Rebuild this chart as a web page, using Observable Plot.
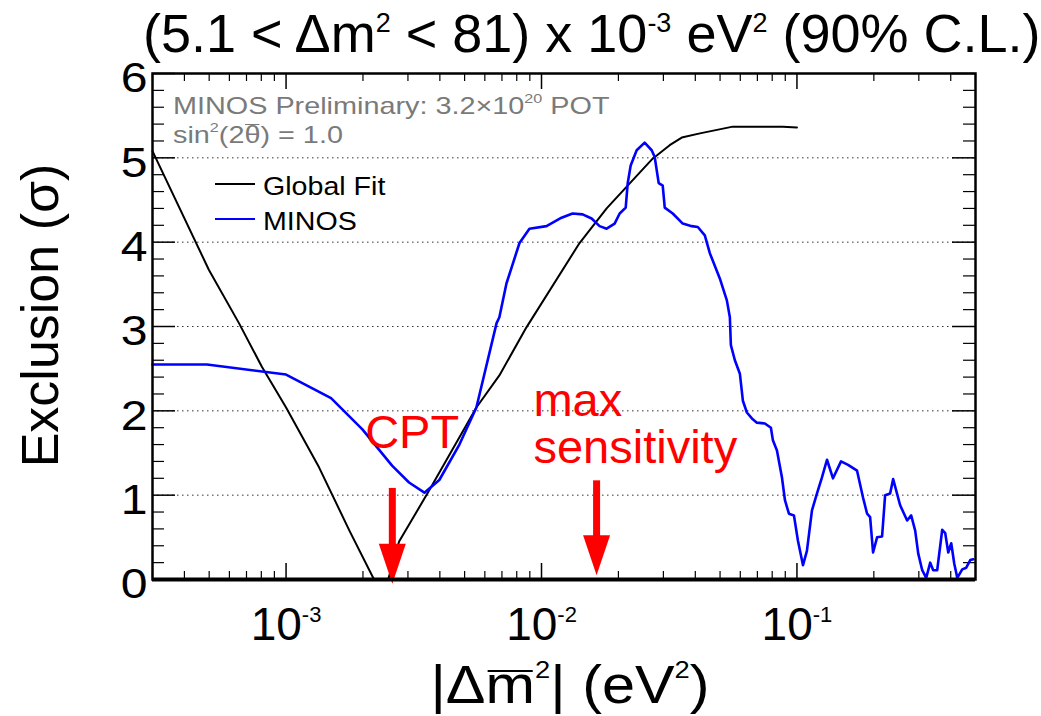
<!DOCTYPE html>
<html><head><meta charset="utf-8">
<script src="https://cdn.jsdelivr.net/npm/d3@7"></script>
<script src="https://cdn.jsdelivr.net/npm/@observablehq/plot@0.6"></script>
<style>
body{margin:0;background:#fff;font-family:'Liberation Sans',Arial,sans-serif;}
#wrap{position:relative;width:1041px;height:716px;overflow:hidden;background:#fff}
#wrap svg{position:absolute;left:0;top:0}
.ov{position:absolute;white-space:nowrap;line-height:1;color:#000}
.ov sup{font-size:0.5em;vertical-align:baseline;position:relative;top:-0.74em;line-height:0}
.xl sup{font-size:0.46em;top:-1.0em}
.gray{color:#7a7a7a;font-size:24px;transform:scaleX(1.2);transform-origin:left center}
.gray sup{font-size:0.56em;top:-0.82em}
.ol{position:relative}
.ol::before{content:"";position:absolute;left:0.04em;right:0.04em;top:0.14em;border-top:0.055em solid currentColor}
.xl .ol::before{top:0.29em}
.leg{font-size:26px;transform:scaleX(1.1);transform-origin:left center}
</style></head><body>
<div id="wrap"></div>
<script>
// ---- data ----
const globalFitX = [3e-4, 4.99e-4, 6.54e-4, 8.05e-4, 1e-3, 1.346e-3, 1.77e-3, 2.21e-3, 2.51e-3, 2.77e-3, 3.64e-3, 5.56e-3, 6.84e-3, 8.73e-3, 0.01409, 0.01799, 0.02174, 0.02723, 0.03175, 0.0354, 0.0417, 0.0561, 0.0881, 0.1];
const globalFitY = [5.08, 3.67, 3.04, 2.52, 2.04, 1.33, 0.58, 0.0, 0.0, 0.45, 1.06, 2.04, 2.42, 2.99, 3.99, 4.40, 4.67, 4.99, 5.15, 5.24, 5.29, 5.37, 5.37, 5.36];

const minosX = [3e-4, 4.9e-4, 1e-3, 1.5e-3, 1.99e-3, 2.6e-3, 3.03e-3, 3.48e-3, 3.98e-3, 4.77e-3, 5.56e-3, 6.67e-3, 6.84e-3, 7.29e-3, 8.2e-3, 8.97e-3, 0.01046, 0.01198, 0.01323, 0.01448, 0.01571, 0.01688, 0.01799, 0.01933, 0.02023, 0.02136, 0.02175, 0.02234, 0.02358, 0.02534, 0.027, 0.02774, 0.02876, 0.02982, 0.03037, 0.03264, 0.03572, 0.03874, 0.04091, 0.04358, 0.04559, 0.04989, 0.05316, 0.05462, 0.05512, 0.05715, 0.05978, 0.06142, 0.06368, 0.06662, 0.06969, 0.0749, 0.07907, 0.08052, 0.0835, 0.08736, 0.08975, 0.09303, 0.09732, 0.1009, 0.1056, 0.1094, 0.1145, 0.1198, 0.1253, 0.1311, 0.1384, 0.1488, 0.1585, 0.1719, 0.1815, 0.1882, 0.1934, 0.1986, 0.2059, 0.2154, 0.2214, 0.2316, 0.238, 0.2535, 0.27, 0.28, 0.2903, 0.2983, 0.3093, 0.3206, 0.3324, 0.3415, 0.354, 0.3704, 0.3806, 0.3911, 0.4018, 0.4128, 0.4242, 0.4437, 0.4601, 0.477, 0.49];
const minosY = [2.55, 2.55, 2.43, 2.15, 1.78, 1.35, 1.15, 1.03, 1.18, 1.6, 2.04, 3.04, 3.11, 3.51, 3.99, 4.16, 4.19, 4.29, 4.34, 4.33, 4.28, 4.19, 4.16, 4.22, 4.34, 4.41, 4.70, 4.91, 5.09, 5.18, 5.09, 5.01, 4.70, 4.67, 4.41, 4.34, 4.22, 4.19, 4.18, 4.08, 3.87, 3.57, 3.31, 3.11, 2.78, 2.60, 2.44, 2.12, 1.98, 1.91, 1.86, 1.85, 1.80, 1.65, 1.53, 1.21, 0.94, 0.78, 0.76, 0.46, 0.17, 0.34, 0.82, 1.02, 1.21, 1.42, 1.20, 1.40, 1.36, 1.29, 0.97, 0.78, 0.74, 0.32, 0.50, 0.51, 1.00, 1.02, 1.19, 0.88, 0.70, 0.76, 0.58, 0.31, 0.11, 0.02, 0.20, 0.11, 0.11, 0.59, 0.55, 0.32, 0.43, 0.19, 0.02, 0.12, 0.14, 0.23, 0.24];

const arrowX = [2.606e-3, 0.01643];
const arrowTop = [1.08, 1.17];
const arrowBase = [0.40, 0.45];
const arrowTip = [-0.05, 0.05];

const annotText = ["CPT", "max\nsensitivity"];
const annotX = [2.04e-3, 9.3e-3];
const annotY = [1.565, 1.387];

const xDomain = [3e-4, 0.5];
const yDomain = [0, 6];
const xLabelTicks = [1e-3, 1e-2, 1e-1];
const xMajorTicks = [1e-3, 1e-2, 1e-1];
const xMinorTicks = [3e-4, 4e-4, 5e-4, 6e-4, 7e-4, 8e-4, 9e-4, 2e-3, 3e-3, 4e-3, 5e-3, 6e-3, 7e-3, 8e-3, 9e-3, 2e-2, 3e-2, 4e-2, 5e-2, 6e-2, 7e-2, 8e-2, 9e-2, 0.2, 0.3, 0.4];
const yTickLabels = [0, 1, 2, 3, 4, 5, 6];
const yMinorTicks = d3.range(1, 30).map(i => i / 5).filter(v => Math.abs(v - Math.round(v)) > 1e-9);
const yGrid = [1, 2, 3, 4, 5];

// ---- layout ----
const W = 1041, H = 716, ML = 152, MR = 66, MT = 73, MB = 137;
const FW = W - ML - MR, FH = H - MT - MB;

const arrowHead = {
  draw(ctx) {
    ctx.moveTo(-13.5, -40);
    ctx.lineTo(13.5, -40);
    ctx.lineTo(0, 0);
    ctx.closePath();
  }
};

const plot = Plot.plot({
  width: W, height: H,
  marginLeft: ML, marginRight: MR, marginTop: MT, marginBottom: MB,
  x: {type: "log", domain: xDomain},
  y: {domain: yDomain},
  style: {fontFamily: "'Liberation Sans', Arial, sans-serif", background: "white", overflow: "visible"},
  marks: [
    Plot.ruleY(yGrid, {stroke: "#333", strokeWidth: 1, strokeDasharray: "1.5,3.5"}),
    Plot.tickX(xMajorTicks, {x: d => d, insetTop: FH - 16, stroke: "black", strokeWidth: 1.5}),
    Plot.tickX(xMajorTicks, {x: d => d, insetBottom: FH - 16, stroke: "black", strokeWidth: 1.5}),
    Plot.tickX(xMinorTicks, {x: d => d, insetTop: FH - 8, stroke: "black", strokeWidth: 1.2}),
    Plot.tickX(xMinorTicks, {x: d => d, insetBottom: FH - 8, stroke: "black", strokeWidth: 1.2}),
    Plot.tickY(yTickLabels, {y: d => d, insetRight: FW - 23, stroke: "black", strokeWidth: 1.5}),
    Plot.tickY(yTickLabels, {y: d => d, insetLeft: FW - 23, stroke: "black", strokeWidth: 1.5}),
    Plot.tickY(yMinorTicks, {y: d => d, insetRight: FW - 12, stroke: "black", strokeWidth: 1.2}),
    Plot.tickY(yMinorTicks, {y: d => d, insetLeft: FW - 12, stroke: "black", strokeWidth: 1.2}),
    Plot.line(globalFitX, {x: globalFitX, y: globalFitY, stroke: "black", strokeWidth: 2}),
    Plot.line(minosX, {x: minosX, y: minosY, stroke: "#0000ff", strokeWidth: 2.6}),
    Plot.ruleX(arrowX, {x: arrowX, y1: arrowTop, y2: arrowBase, stroke: "#ff0000", strokeWidth: 7}),
    Plot.dot(arrowX, {x: arrowX, y: arrowTip, symbol: arrowHead, fill: "#ff0000", stroke: "none"}),
    Plot.text(annotText, {x: annotX, y: annotY, text: annotText, fill: "#ff0000", fontSize: 47, textAnchor: "start", lineAnchor: "bottom", lineHeight: 1.0}),
    Plot.text(["Exclusion (σ)"], {frameAnchor: "left", dx: -111, dy: -11, rotate: -90, fontSize: 52, textAnchor: "middle", fill: "black"}),
    Plot.frame({stroke: "black", strokeWidth: 2.5}),
    Plot.ruleY([0], {stroke: "black", strokeWidth: 4}),
    Plot.axisX({ticks: xLabelTicks, tickSize: 0, tickPadding: 28, fontSize: 46, label: null, tickFormat: d => "10^" + Math.round(Math.log10(d))}),
    Plot.axisY({ticks: yTickLabels, tickSize: 0, tickPadding: 5, fontSize: 43, label: null, dy: 5, tickFormat: d => String(d)})
  ]
});

// superscripts on x tick labels
d3.select(plot).selectAll('g[aria-label="x-axis tick label"] text').each(function () {
  const t = d3.select(this);
  const s = t.text();
  if (s.includes("^")) {
    const [base, exp] = s.split("^");
    t.text(base);
    t.append("tspan").attr("dy", -18).attr("font-size", 22).text(exp.replace("\u2212", "-"));
  }
});
// slightly wider y tick digits, as in the stretched original
d3.select(plot).selectAll('g[aria-label="y-axis tick label"] text').each(function () {
  const tr = this.getAttribute("transform") || "";
  this.setAttribute("transform", tr + " scale(1.12,1)");
});

const wrap = document.getElementById("wrap");
wrap.appendChild(plot);

function ov(html, css, cls) {
  const d = document.createElement("div");
  d.className = "ov" + (cls ? " " + cls : "");
  d.style.cssText = css;
  d.innerHTML = html;
  wrap.appendChild(d);
  return d;
}
// title
ov('(5.1 &lt; Δm<sup>2</sup> &lt; 81) x 10<sup>-3</sup> eV<sup>2</sup> (90% C.L.)', 'left:143px;top:6px;font-size:54px;');
// x label
ov('|Δ<span class="ol">m</span><sup>2</sup>| (eV<sup>2</sup>)', 'left:570px;top:657px;font-size:54px;transform:translateX(-50%) scaleX(1.1);', 'xl');
// in-frame labels
ov('MINOS Preliminary: 3.2×10<sup>20</sup> POT', 'left:173px;top:94px;', 'gray');
ov('sin<sup>2</sup>(2<span class="ol">θ</span>) = 1.0', 'left:173px;top:123px;', 'gray');
// legend
ov('', 'left:215px;top:183px;width:40px;border-top:2px solid #000;');
ov('', 'left:215px;top:218px;width:40px;border-top:2.6px solid #0000ff;');
ov('Global Fit', 'left:263px;top:173px;', 'leg');
ov('MINOS', 'left:263px;top:208px;', 'leg');
</script>
</body></html>
